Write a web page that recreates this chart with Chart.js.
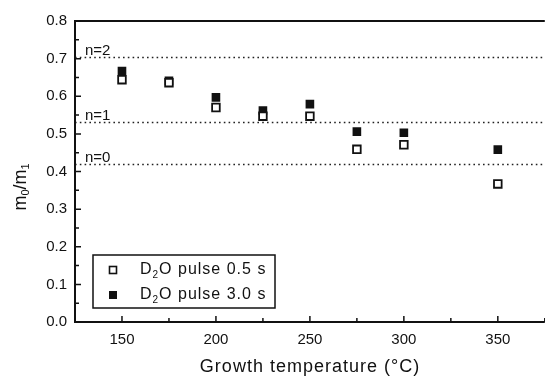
<!DOCTYPE html>
<html>
<head>
<meta charset="utf-8">
<script src="https://cdn.jsdelivr.net/npm/chart.js@4"></script>
<style>
html, body { margin: 0; padding: 0; background: #fff; overflow: hidden; }
#wrap { width: 545px; height: 377px; overflow: hidden; }
canvas { display: block; }
</style>
</head>
<body>
<div id="wrap"><canvas id="chart" width="552" height="377"></canvas></div>
<script>
// growth temperatures (°C) and m0/m1 ratios
const temps = [150, 175, 200, 225, 250, 275, 300, 350];
const pulse05 = [0.644, 0.636, 0.570, 0.547, 0.547, 0.459, 0.471, 0.367];
const pulse30 = [0.667, 0.641, 0.597, 0.562, 0.579, 0.506, 0.503, 0.458];

// reference levels (dotted lines)
const levelValues = [0.704, 0.532, 0.419];
const levelLabels = ['n=2', 'n=1', 'n=0'];

// legend text split as [base, subscript, rest]
const seriesNames = [['D', '2', 'O pulse 0.5 s'], ['D', '2', 'O pulse 3.0 s']];
const xLabelTicks = [150, 200, 250, 300, 350];

const FONT = '"Liberation Sans", Arial, sans-serif';
const INK = '#111';

function toPoints(ys) {
  return temps.map((t, i) => ({ x: t, y: ys[i] }));
}

// draws inward ticks, frame, dotted levels, legend and axis titles
const decor = {
  id: 'decor',
  beforeDatasetsDraw(chart) {
    const { ctx, chartArea: a, scales: { y } } = chart;
    ctx.save();
    // dotted reference lines
    ctx.strokeStyle = '#222';
    ctx.lineWidth = 1.6;
    ctx.setLineDash([1.6, 3.2]);
    levelValues.forEach((v) => {
      const py = Math.round(y.getPixelForValue(v)) + 0.5;
      ctx.beginPath();
      ctx.moveTo(a.left, py);
      ctx.lineTo(a.right, py);
      ctx.stroke();
    });
    ctx.setLineDash([]);
    ctx.fillStyle = INK;
    ctx.font = '15px ' + FONT;
    ctx.textAlign = 'left';
    ctx.textBaseline = 'alphabetic';
    levelValues.forEach((v, i) => {
      ctx.fillText(levelLabels[i], a.left + 10, y.getPixelForValue(v) - 2);
    });
    ctx.restore();
  },
  afterDraw(chart) {
    const { ctx, chartArea: a, scales: { x, y } } = chart;
    ctx.save();
    ctx.strokeStyle = INK;

    // frame (right side falls off the picture)
    ctx.lineWidth = 2;
    ctx.beginPath();
    ctx.moveTo(a.right, a.top);
    ctx.lineTo(a.left, a.top);
    ctx.lineTo(a.left, a.bottom);
    ctx.lineTo(a.right, a.bottom);
    ctx.stroke();

    // inward ticks
    ctx.lineWidth = 1.5;
    ctx.beginPath();
    for (let v = 0; v <= 0.8001; v += 0.05) {
      const major = Math.abs(v * 10 - Math.round(v * 10)) < 1e-6;
      const py = y.getPixelForValue(v);
      ctx.moveTo(a.left, py);
      ctx.lineTo(a.left + (major ? 6 : 4), py);
    }
    for (let t = 125; t <= 375; t += 25) {
      const major = t % 50 === 0;
      const px = x.getPixelForValue(t);
      ctx.moveTo(px, a.bottom);
      ctx.lineTo(px, a.bottom - (major ? 6 : 4));
    }
    ctx.stroke();

    // legend box
    const bx = 93, by = 255, bw = 182, bh = 53;
    ctx.lineWidth = 1.5;
    ctx.fillStyle = '#fff';
    ctx.fillRect(bx, by, bw, bh);
    ctx.strokeRect(bx, by, bw, bh);
    const rows = [270, 295];
    rows.forEach((ry, i) => {
      const s = 7;
      if (i === 0) {
        ctx.lineWidth = 1.6;
        ctx.strokeRect(113 - s / 2, ry - s / 2, s, s);
      } else {
        ctx.fillStyle = INK;
        ctx.fillRect(113 - s / 2 - 0.5, ry - s / 2 - 0.5, s + 1, s + 1);
      }
      const [base, sub, rest] = seriesNames[i];
      ctx.fillStyle = INK;
      ctx.textBaseline = 'middle';
      ctx.textAlign = 'left';
      ctx.letterSpacing = '1px';
      ctx.font = '16px ' + FONT;
      let tx = 140;
      ctx.fillText(base, tx, ry);
      tx += ctx.measureText(base).width;
      ctx.font = '10px ' + FONT;
      ctx.fillText(sub, tx, ry + 5);
      tx += ctx.measureText(sub).width;
      ctx.font = '16px ' + FONT;
      ctx.fillText(rest, tx, ry);
    });

    // x title
    ctx.letterSpacing = '1px';
    ctx.font = '18px ' + FONT;
    ctx.textAlign = 'center';
    ctx.textBaseline = 'middle';
    ctx.fillText('Growth temperature (°C)', 310, 367);

    // y title m0/m1, rotated
    ctx.translate(21, 187);
    ctx.rotate(-Math.PI / 2);
    ctx.letterSpacing = '0px';
    const parts = [['m', 18, 0], ['0', 11, 5], ['/m', 18, 0], ['1', 11, 5]];
    let w = 0;
    parts.forEach(([t, f]) => { ctx.font = f + 'px ' + FONT; w += ctx.measureText(t).width; });
    let px = -w / 2;
    ctx.textAlign = 'left';
    parts.forEach(([t, f, dy]) => {
      ctx.font = f + 'px ' + FONT;
      ctx.fillText(t, px, dy);
      px += ctx.measureText(t).width;
    });
    ctx.restore();
  }
};

new Chart(document.getElementById('chart'), {
  type: 'scatter',
  data: {
    datasets: [
      {
        label: 'D2O pulse 0.5 s',
        data: toPoints(pulse05),
        pointStyle: 'rect',
        pointRadius: 5.4,
        pointBorderWidth: 1.8,
        pointBorderColor: INK,
        pointBackgroundColor: '#fff'
      },
      {
        label: 'D2O pulse 3.0 s',
        data: toPoints(pulse30),
        pointStyle: 'rect',
        pointRadius: 6.1,
        pointBorderWidth: 0,
        pointBorderColor: INK,
        pointBackgroundColor: INK
      }
    ]
  },
  options: {
    responsive: false,
    animation: false,
    layout: { padding: { top: 21, right: 0, left: 0, bottom: 0 } },
    plugins: { legend: { display: false }, tooltip: { enabled: false } },
    scales: {
      x: {
        type: 'linear',
        min: 125,
        max: 375,
        afterBuildTicks: (s) => { s.ticks = xLabelTicks.map((v) => ({ value: v })); },
        afterFit: (s) => { s.height = 55; },
        grid: { display: false, drawTicks: false },
        border: { display: false },
        ticks: { color: INK, padding: 9, font: { family: FONT, size: 15 } }
      },
      y: {
        min: 0,
        max: 0.8,
        afterFit: (s) => { s.width = 75; },
        grid: { display: false, drawTicks: false },
        border: { display: false },
        ticks: {
          stepSize: 0.1,
          color: INK,
          padding: 8,
          font: { family: FONT, size: 15 },
          callback: (v) => v.toFixed(1)
        }
      }
    }
  },
  plugins: [decor]
});
</script>
</body>
</html>
